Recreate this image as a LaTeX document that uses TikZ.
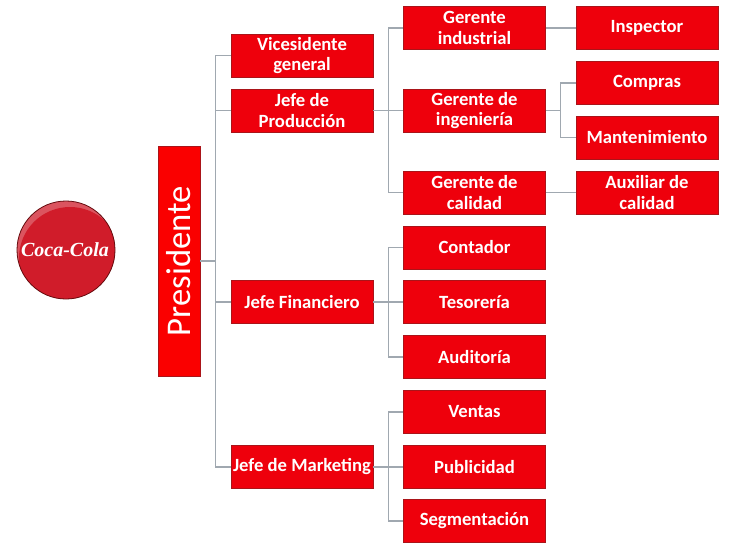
\documentclass[tikz,border=0pt]{standalone}
\usepackage{fontspec}
\setmainfont{Carlito}
\newfontfamily\logofont{Liberation Serif}
\definecolor{boxred}{RGB}{238,0,12}
\definecolor{topred}{RGB}{250,0,0}
\definecolor{boxedge}{RGB}{170,20,25}
\definecolor{linkgray}{RGB}{160,168,176}
\definecolor{logored}{RGB}{208,28,42}
\tikzset{
  orgbox/.style={draw=boxedge,line width=0.5pt,fill=boxred,text=white,font=\bfseries\fontsize{14}{15.4}\selectfont,
    align=center,inner sep=0pt,minimum width=106.5pt,minimum height=32pt},
  topbox/.style={draw=boxedge,line width=0.5pt,fill=topred,text=white,font=\fontsize{26}{30}\selectfont,
    rotate=90,inner sep=0pt,minimum width=172.5pt,minimum height=31.5pt},
  link/.style={draw=linkgray,line width=0.8pt},
}
\begin{document}
\begin{tikzpicture}[x=0.75pt,y=-0.75pt]
\useasboundingbox (0,0) rectangle (736,550);
\fill[white] (0,0) rectangle (736,550);
% logo
\fill[logored] (66,250) circle (49);
\begin{scope}
  \clip (66,250) circle (49);
  \fill[white,opacity=0.25] (66,250) circle (49);
  \fill[logored] (70,258) circle (51);
\end{scope}
\draw[boxedge!60!black,line width=0.6pt] (66,250) circle (49);
\node (logo) [text=white,font=\logofont\bfseries\itshape\fontsize{15}{18}\selectfont,inner sep=0pt] at (65,250) {Coca-Cola};
% boxes
\node[topbox] (pres) at (179,261) {Presidente};
\node[orgbox] (vice) at (302,55.5) {Vicesidente\\general};
\node[orgbox] (prod) at (302,110.5) {Jefe de\\Producción};
\node[orgbox] (fin) at (302,302) {Jefe Financiero};
\node[orgbox] (mkt) at (302,467) {Jefe de Marketing};
\node[orgbox] (gind) at (474.5,28) {Gerente\\industrial};
\node[orgbox] (ging) at (474.5,110.5) {Gerente de\\ingeniería};
\node[orgbox] (gcal) at (474.5,192.5) {Gerente de\\calidad};
\node[orgbox] (cont) at (474.5,247.5) {Contador};
\node[orgbox] (teso) at (474.5,302) {Tesorería};
\node[orgbox] (audi) at (474.5,357) {Auditoría};
\node[orgbox] (vent) at (474.5,412) {Ventas};
\node[orgbox] (publ) at (474.5,467) {Publicidad};
\node[orgbox] (segm) at (474.5,521) {Segmentación};
\node[orgbox] (insp) at (647,28) {Inspector};
\node[orgbox] (comp) at (647,83) {Compras};
\node[orgbox] (mant) at (647,137.5) {Mantenimiento};
\node[orgbox] (auxc) at (647,192.5) {Auxiliar de\\calidad};
% connectors
\foreach \t in {vice,prod,fin,mkt}
  \draw[link] (pres.south) -- ++(15.5,0) |- (\t.west);
\foreach \t in {gind,ging,gcal}
  \draw[link] (prod.east) -- ++(15,0) |- (\t.west);
\foreach \t in {cont,teso,audi}
  \draw[link] (fin.east) -- ++(15,0) |- (\t.west);
\foreach \t in {vent,publ,segm}
  \draw[link] (mkt.east) -- ++(15,0) |- (\t.west);
\draw[link] (gind.east) -- (insp.west);
\foreach \t in {comp,mant}
  \draw[link] (ging.east) -- ++(15,0) |- (\t.west);
\draw[link] (gcal.east) -- (auxc.west);
\end{tikzpicture}
\end{document}
